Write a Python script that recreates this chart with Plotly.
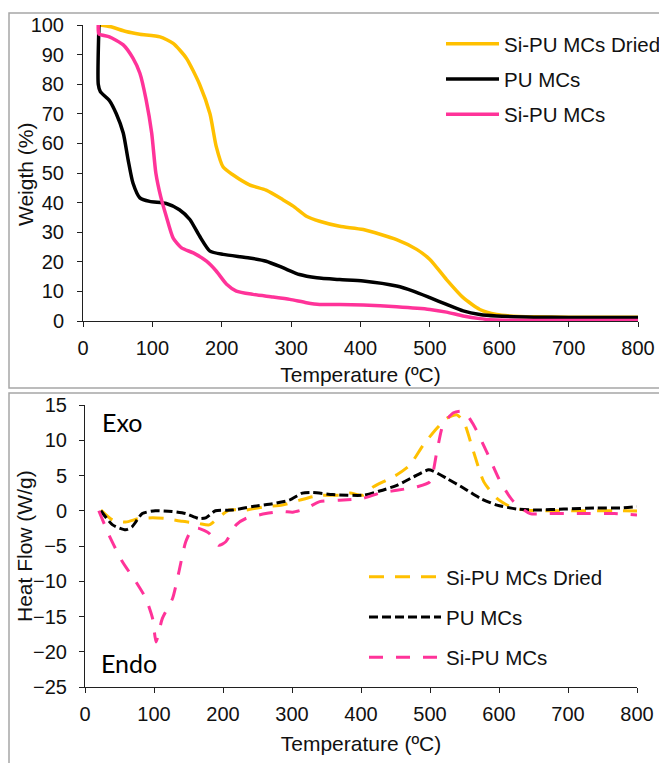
import plotly.graph_objects as go

# ---------------- data ----------------
series_names = ["Si-PU MCs Dried", "PU MCs", "Si-PU MCs"]

tga_dried_x = [24, 40, 62, 82, 111, 130, 149, 168, 183, 192, 202, 216, 240, 264, 288, 303, 322, 341, 370,
               404, 452, 481, 500, 524, 548, 572, 596, 615, 650, 700, 750, 800]
tga_dried_y = [100, 99.4, 97.8, 96.9, 96, 93.8, 88.8, 80, 70, 59, 52, 49.4, 46, 44.2, 41, 38.8, 35.4, 33.7, 32,
               30.9, 27.5, 24.2, 20.8, 14, 7.9, 3.9, 2.2, 1.7, 1.4, 1.3, 1.3, 1.3]

tga_pu_x = [23, 22, 25, 38, 48, 58, 65, 72, 82, 96, 120, 139, 154, 168, 183, 202, 240, 264, 288, 312, 337, 370,
            404, 452, 476, 500, 524, 548, 572, 596, 650, 700, 750, 800]
tga_pu_y = [100, 80, 77.5, 74.5, 70, 63.5, 54.5, 46.6, 41.6, 40.4, 39.7, 37.6, 34.3, 28.7, 23.6, 22.5, 21.3, 20.2,
            18, 15.7, 14.6, 14, 13.5, 11.8, 10.1, 7.9, 5.6, 3.4, 2.2, 1.7, 1.3, 1.2, 1.2, 1.2]

tga_si_x = [22, 23, 38, 58, 72, 82, 91, 99, 105, 112, 120, 130, 142, 159, 178, 192, 207, 221, 245, 274, 298, 322,
            341, 370, 404, 452, 500, 524, 548, 572, 596, 650, 700, 800]
tga_si_y = [100, 97, 96, 93.3, 88.8, 83.7, 74.7, 63.5, 50, 42, 35.4, 28, 24.7, 23, 20.2, 16.9, 12.4, 10.1, 9, 8.1,
            7.3, 6.2, 5.6, 5.6, 5.4, 4.8, 3.9, 3, 1.7, 0.8, 0.3, 0.2, 0.2, 0.2]

dsc_dried_x = [23, 40, 59, 78, 98, 117, 141, 165, 180, 195, 209, 233, 262, 286, 311, 330, 344, 369, 384, 403, 418,
               437, 452, 471, 490, 510, 524, 539, 549, 563, 578, 597, 616, 636, 670, 718, 767, 800]
dsc_dried_y = [0.1, -1.3, -1.6, -1.1, -1, -1.1, -1.5, -1.8, -2, -0.85, 0.1, 0.1, 0.6, 0.8, 1.5, 2, 2.2, 2.2, 2.5,
               2.2, 3.4, 4.35, 5.1, 6.5, 9.3, 11.7, 13.1, 13.6, 12.6, 8.4, 4.1, 1.75, 0.6, 0.1, 0, 0, 0, -0.05]

dsc_pu_x = [23, 40, 59, 68, 83, 102, 126, 146, 165, 175, 189, 214, 243, 272, 296, 315, 330, 359, 403, 427, 452,
            476, 498, 505, 524, 549, 573, 597, 626, 655, 694, 742, 776, 800]
dsc_pu_y = [0, -2, -2.7, -2.3, -0.4, 0, -0.1, -0.4, -1.1, -1, 0, 0.1, 0.6, 1.0, 1.5, 2.5, 2.6, 2.3, 2.2, 2.8,
            3.6, 4.8, 5.8, 5.6, 4.6, 3.2, 1.75, 0.8, 0.24, 0.1, 0.24, 0.4, 0.4, 0.57]

dsc_si_x = [20, 35, 54, 74, 88, 98, 103, 112, 127, 136, 146, 156, 165, 180, 194, 204, 219, 233, 262, 286, 301, 320,
            340, 369, 403, 427, 452, 481, 500, 510, 519, 534, 549, 563, 582, 602, 621, 645, 670, 718, 767, 800]
dsc_si_y = [0, -3.5, -7.2, -10.1, -12.4, -15.3, -18.6, -15.3, -12.4, -8.7, -4.4, -2.5, -2.5, -3.2, -4.9, -4.4,
            -2, -1.1, -0.4, -0.1, -0.2, 0.3, 1.3, 1.5, 1.75, 2.5, 2.9, 3.4, 4.1, 8.4, 12.2, 13.9, 14.1, 12.2, 8.4,
            4.1, 1.3, -0.4, -0.4, -0.4, -0.4, -0.6]

x_ticks = [0, 100, 200, 300, 400, 500, 600, 700, 800]

# ---------------- styles ----------------
colors = ["#FFC000", "#000000", "#FF3399"]
dashes = ["15px,11px", "9px,4px", "14px,13px"]
W, H = 667, 763
OFF = 8  # page body margin offset
FONT = "Liberation Sans, Arial, sans-serif"
TXT = "#111111"
AX = "#202020"

fig = go.Figure()

tga = [(tga_dried_x, tga_dried_y), (tga_pu_x, tga_pu_y), (tga_si_x, tga_si_y)]
for i, (xs, ys) in enumerate(tga):
    fig.add_trace(go.Scatter(x=xs, y=ys, mode="lines", name=series_names[i],
                             line=dict(color=colors[i], width=3.5, shape="spline", smoothing=0.6),
                             xaxis="x", yaxis="y", legend="legend", legendgroup="t%d" % i))

dsc = [(dsc_dried_x, dsc_dried_y), (dsc_pu_x, dsc_pu_y), (dsc_si_x, dsc_si_y)]
for i, (xs, ys) in enumerate(dsc):
    fig.add_trace(go.Scatter(x=xs, y=ys, mode="lines", name=series_names[i],
                             line=dict(color=colors[i], width=3, dash=dashes[i], shape="spline", smoothing=0.6),
                             xaxis="x2", yaxis="y2", legend="legend2", legendgroup="d%d" % i))

axis_common = dict(showgrid=False, zeroline=False, showline=True, linecolor=AX, linewidth=1,
                   ticks="outside", ticklen=5, tickcolor=AX,
                   tickfont=dict(family=FONT, size=20, color=TXT), automargin=False)


def px_x(p):
    return (p - OFF) / W


def px_y(p):
    return 1 - (p - OFF) / H


title_font = dict(family=FONT, size=21, color=TXT)
legend_font = dict(family=FONT, size=20.5, color=TXT)

fig.update_layout(
    width=W, height=H, margin=dict(l=0, r=0, t=0, b=0),
    paper_bgcolor="white", plot_bgcolor="white",
    xaxis=dict(domain=[px_x(83), px_x(638)], range=[0, 800], tickvals=x_ticks, anchor="y",
               ticklabelstandoff=4,
               title=dict(text="Temperature (ºC)", font=title_font, standoff=9),
               **axis_common),
    yaxis=dict(domain=[px_y(321), px_y(25)], range=[0, 100], dtick=10, anchor="x",
               ticklabelstandoff=9,
               **axis_common),
    xaxis2=dict(domain=[px_x(85), px_x(637)], range=[0, 800], tickvals=x_ticks, anchor="y2",
                ticklabelstandoff=4,
                title=dict(text="Temperature (ºC)", font=title_font, standoff=12),
                **axis_common),
    yaxis2=dict(domain=[px_y(687), px_y(405)], range=[-25, 15], dtick=5, anchor="x2",
                ticklabelstandoff=8,
                **axis_common),
    legend=dict(x=px_x(441), y=px_y(24), xanchor="left", yanchor="top", bgcolor="rgba(0,0,0,0)",
                font=legend_font, itemwidth=53, tracegroupgap=5.5),
    legend2=dict(x=px_x(364), y=px_y(557), xanchor="left", yanchor="top", bgcolor="rgba(0,0,0,0)",
                 font=legend_font, itemwidth=72, tracegroupgap=10.5),
    showlegend=True,
    shapes=[
        dict(type="rect", xref="paper", yref="paper", x0=px_x(9), x1=px_x(720), y0=px_y(388), y1=px_y(13),
             line=dict(color="#a6a6a6", width=1.5), fillcolor="rgba(0,0,0,0)", layer="below"),
        dict(type="rect", xref="paper", yref="paper", x0=px_x(9), x1=px_x(720), y0=px_y(820), y1=px_y(393),
             line=dict(color="#a6a6a6", width=1.5), fillcolor="rgba(0,0,0,0)", layer="below"),
    ],
    annotations=[
        dict(text="Weigth (%)", xref="paper", yref="paper", x=px_x(25), y=px_y(175), xanchor="center",
             yanchor="middle", textangle=-90, showarrow=False, font=title_font),
        dict(text="Heat Flow (W/g)", xref="paper", yref="paper", x=px_x(24), y=px_y(546), xanchor="center",
             yanchor="middle", textangle=-90, showarrow=False, font=title_font),
        dict(text="Exo", xref="paper", yref="paper", x=px_x(100), y=px_y(422), xanchor="left", yanchor="middle",
             showarrow=False, font=dict(family="Lato, Open Sans, sans-serif", size=25, color="#000")),
        dict(text="Endo", xref="paper", yref="paper", x=px_x(99), y=px_y(663), xanchor="left", yanchor="middle",
             showarrow=False, font=dict(family="Lato, Open Sans, sans-serif", size=25, color="#000")),
    ],
)

fig.write_html("out.html")
